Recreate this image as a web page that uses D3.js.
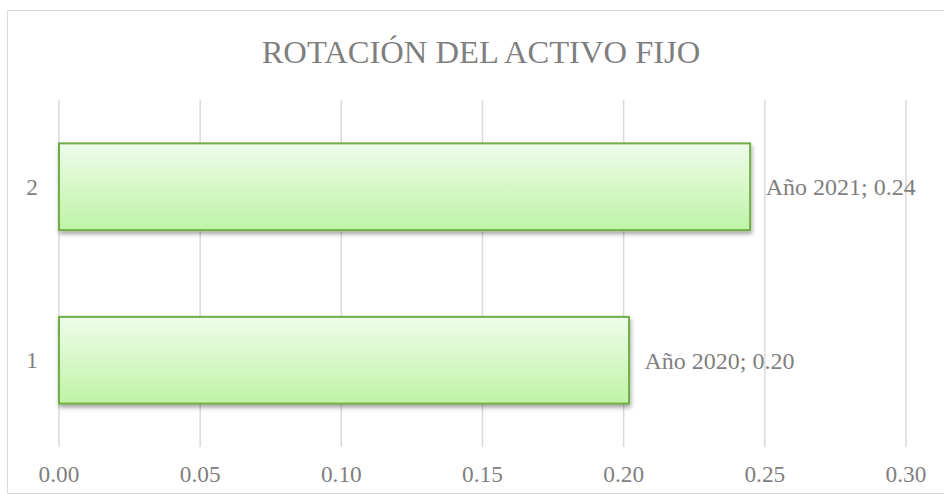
<!DOCTYPE html>
<html>
<head>
<meta charset="utf-8">
<script src="https://cdn.jsdelivr.net/npm/d3@7/dist/d3.min.js"></script>
<style>
  html, body { margin: 0; padding: 0; background: #fff; }
  svg { display: block; }
  text { font-family: "Liberation Serif", "Times New Roman", "DejaVu Serif", serif; fill: #7f7f7f; }
</style>
</head>
<body>
<svg id="chart" width="944" height="495"></svg>
<script>
const title = "ROTACIÓN DEL ACTIVO FIJO";
const categories = ["1", "2"];
const seriesNames = ["Año 2020", "Año 2021"];
const values = [0.2019, 0.2448];
const valueLabels = ["0.20", "0.24"];
const xTicks = [0, 0.05, 0.10, 0.15, 0.20, 0.25, 0.30];

const W = 944, H = 495;
const margin = { left: 59, right: 38, top: 100, bottom: 48 };
const svg = d3.select("#chart");

const defs = svg.append("defs");
const grad = defs.append("linearGradient")
  .attr("id", "barGrad").attr("x1", 0).attr("y1", 0).attr("x2", 0).attr("y2", 1);
grad.append("stop").attr("offset", "0%").attr("stop-color", "#eefcea");
grad.append("stop").attr("offset", "100%").attr("stop-color", "#bff3a6");
const filt = defs.append("filter").attr("id", "shadow")
  .attr("x", "-5%").attr("y", "-10%").attr("width", "110%").attr("height", "130%");
filt.append("feDropShadow").attr("dx", 1).attr("dy", 3).attr("stdDeviation", 2)
  .attr("flood-color", "#000").attr("flood-opacity", 0.35);

// chart border
svg.append("rect").attr("x", 7.5).attr("y", 10.5).attr("width", 945).attr("height", 483)
  .attr("fill", "none").attr("stroke", "#d9d9d9").attr("stroke-width", 1);

const x = d3.scaleLinear().domain([0, 0.30]).range([margin.left, W - margin.right]);
const y = d3.scaleBand().domain(categories.slice().reverse())
  .range([margin.top, H - margin.bottom]).paddingInner(0.5).paddingOuter(0.25);

// gridlines
svg.append("g").selectAll("line").data(xTicks).join("line")
  .attr("x1", d => x(d)).attr("x2", d => x(d))
  .attr("y1", margin.top).attr("y2", H - margin.bottom)
  .attr("stroke", "#d9d9d9").attr("stroke-width", 1.5);

// x tick labels
svg.append("g").selectAll("text").data(xTicks).join("text")
  .attr("x", d => x(d)).attr("y", 482)
  .attr("text-anchor", "middle").attr("font-size", 23.3)
  .text(d => d3.format(".2f")(d));

// category labels
svg.append("g").selectAll("text").data(categories).join("text")
  .attr("x", 38).attr("y", d => y(d) + y.bandwidth() / 2 + 8)
  .attr("text-anchor", "end").attr("font-size", 23.3)
  .text(d => d);

// bars
svg.append("g").selectAll("rect").data(categories).join("rect")
  .attr("x", x(0)).attr("y", d => y(d))
  .attr("width", (d, i) => x(values[i]) - x(0))
  .attr("height", y.bandwidth())
  .attr("fill", "url(#barGrad)")
  .attr("stroke", "#70ad47").attr("stroke-width", 2)
  .attr("filter", "url(#shadow)");

// data labels
svg.append("g").selectAll("text").data(categories).join("text")
  .attr("x", (d, i) => x(values[i]) + 15.5)
  .attr("y", d => y(d) + y.bandwidth() / 2 + 8.5)
  .attr("font-size", 24)
  .text((d, i) => seriesNames[i] + "; " + valueLabels[i]);

// title
svg.append("text").attr("x", 481).attr("y", 63)
  .attr("text-anchor", "middle").attr("font-size", 32.6)
  .text(title);
</script>
</body>
</html>
